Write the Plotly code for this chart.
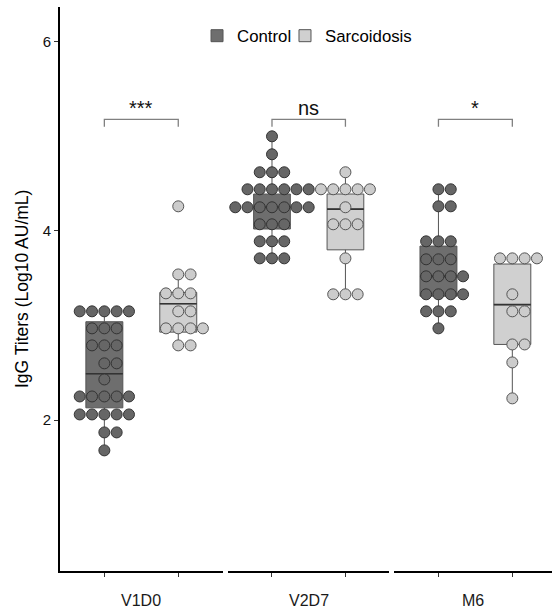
import plotly.graph_objects as go
from collections import Counter

# ---------------- data ----------------
visits = ["V1D0", "V2D7", "M6"]
groups = ["Control", "Sarcoidosis"]
signif = ["***", "ns", "*"]
y_ticks = [2, 4, 6]

# binned dot values (Log10 AU/mL) as drawn in the dot plot
v1d0_control = [3.15, 3.15, 3.15, 3.15, 3.15, 2.97, 2.97, 2.97, 2.79, 2.79, 2.79,
                2.60, 2.60, 2.43, 2.25, 2.25, 2.25, 2.25, 2.25, 2.06, 2.06, 2.06,
                2.06, 2.06, 1.87, 1.87, 1.68]
v1d0_sarc = [4.26, 3.54, 3.54, 3.34, 3.34, 3.34, 3.15, 3.15, 2.97, 2.97, 2.97,
             2.97, 2.79, 2.79]
v2d7_control = [5.00, 4.81, 4.62, 4.62, 4.62, 4.44, 4.44, 4.44, 4.44, 4.44, 4.44,
                4.25, 4.25, 4.25, 4.25, 4.25, 4.25, 4.25, 4.07, 4.07, 4.07, 3.89,
                3.89, 3.89, 3.71, 3.71, 3.71]
v2d7_sarc = [4.62, 4.44, 4.44, 4.44, 4.44, 4.44, 4.25, 4.07, 4.07, 4.07, 3.71,
             3.33, 3.33, 3.33]
m6_control = [4.44, 4.44, 4.26, 4.26, 3.89, 3.89, 3.89, 3.70, 3.70, 3.70, 3.52,
              3.52, 3.52, 3.52, 3.33, 3.33, 3.33, 3.33, 3.15, 3.15, 3.15, 2.97]
m6_sarc = [3.71, 3.71, 3.71, 3.71, 3.33, 3.15, 3.15, 2.80, 2.80, 2.61, 2.23]

# box statistics: [lower whisker, q1, median, q3, upper whisker]
box_v1d0_control = [1.68, 2.13, 2.49, 3.04, 3.15]
box_v1d0_sarc = [2.79, 2.93, 3.23, 3.35, 3.54]
box_v2d7_control = [3.71, 4.02, 4.25, 4.39, 5.00]
box_v2d7_sarc = [3.33, 3.80, 4.23, 4.39, 4.62]
box_m6_control = [2.97, 3.31, 3.52, 3.84, 4.44]
box_m6_sarc = [2.23, 2.80, 3.22, 3.65, 3.71]

bracket_y = 5.18
bracket_tip = 5.10
label_y = 5.30

# ---------------- style ----------------
FONT = "Liberation Sans, Arial, sans-serif"
dot_fill = {"Control": "#666666", "Sarcoidosis": "#cccccc"}
dot_line = {"Control": "#333333", "Sarcoidosis": "#555555"}
box_fill = {"Control": "#6e6e6e", "Sarcoidosis": "#d0d0d0"}
legend_ref = {"Control": "legend", "Sarcoidosis": "legend2"}
dot_step = 0.1666   # horizontal spacing of stacked dots (x units)
box_w = 0.5

dots = {
    ("V1D0", "Control"): v1d0_control, ("V1D0", "Sarcoidosis"): v1d0_sarc,
    ("V2D7", "Control"): v2d7_control, ("V2D7", "Sarcoidosis"): v2d7_sarc,
    ("M6", "Control"): m6_control, ("M6", "Sarcoidosis"): m6_sarc,
}
boxes = {
    ("V1D0", "Control"): box_v1d0_control, ("V1D0", "Sarcoidosis"): box_v1d0_sarc,
    ("V2D7", "Control"): box_v2d7_control, ("V2D7", "Sarcoidosis"): box_v2d7_sarc,
    ("M6", "Control"): box_m6_control, ("M6", "Sarcoidosis"): box_m6_sarc,
}

axes = ["x", "x2", "x3"]
fig = go.Figure()

# boxes
for i, v in enumerate(visits):
    for j, g in enumerate(groups):
        lo, q1, med, q3, hi = boxes[(v, g)]
        fig.add_trace(go.Box(
            x=[j + 1], q1=[q1], median=[med], q3=[q3],
            lowerfence=[lo], upperfence=[hi],
            width=box_w, whiskerwidth=0, boxpoints=False,
            fillcolor=box_fill[g], line=dict(color="#555555", width=1),
            name=g, legendgroup=g, showlegend=(i == 0), legend=legend_ref[g],
            xaxis=axes[i], yaxis="y", hoverinfo="skip",
        ))
        # emphasised median line
        fig.add_trace(go.Scatter(
            x=[j + 1 - box_w / 2, j + 1 + box_w / 2], y=[med, med],
            mode="lines", line=dict(color="#333333", width=1.7),
            showlegend=False, xaxis=axes[i], yaxis="y", hoverinfo="skip",
        ))

# stacked dots (centre-whole stacking)
for i, v in enumerate(visits):
    for j, g in enumerate(groups):
        vals = dots[(v, g)]
        cnt = Counter(vals)
        xs, ys = [], []
        for val, n in cnt.items():
            for k in range(n):
                xs.append(j + 1 + (k - (n - 1) // 2) * dot_step)
                ys.append(val)
        fig.add_trace(go.Scatter(
            x=xs, y=ys, mode="markers",
            marker=dict(size=11, color=dot_fill[g],
                        line=dict(color=dot_line[g], width=1)),
            showlegend=False, xaxis=axes[i], yaxis="y", hoverinfo="skip",
        ))

# significance brackets
for i, v in enumerate(visits):
    fig.add_trace(go.Scatter(
        x=[1, 1, 2, 2], y=[bracket_tip, bracket_y, bracket_y, bracket_tip],
        mode="lines", line=dict(color="#808080", width=1.3),
        showlegend=False, xaxis=axes[i], yaxis="y", hoverinfo="skip",
    ))
    fig.add_annotation(x=1.5, y=label_y, xref=axes[i], yref="y",
                       text=signif[i], showarrow=False,
                       font=dict(family=FONT, size=20, color="#111111"),
                       xanchor="center", yanchor="middle")
    fig.add_annotation(x=0.5, y=-0.0526, xref=f"{axes[i]} domain", yref="paper",
                       text=v, showarrow=False,
                       font=dict(family=FONT, size=16, color="#1a1a1a"),
                       xanchor="center", yanchor="middle")

# y title
fig.add_annotation(x=-0.0772, y=0.5, xref="paper", yref="paper",
                   text="IgG Titers (Log10 AU/mL)", textangle=-90,
                   showarrow=False, font=dict(family=FONT, size=17.5, color="#000000"),
                   xanchor="center", yanchor="middle")

xcommon = dict(showline=True, linecolor="black", linewidth=1.6, ticks="outside",
               ticklen=4, tickcolor="#333333", tickvals=[1, 2], ticktext=["", ""],
               showgrid=False, zeroline=False, fixedrange=True, anchor="y")

legend_common = dict(orientation="h", xanchor="left", y=0.949, yanchor="middle",
                     font=dict(family=FONT, size=16.8, color="black"),
                     bgcolor="rgba(0,0,0,0)", itemclick=False, itemdoubleclick=False)

fig.update_layout(
    width=552, height=610,
    margin=dict(l=60, r=0, t=7, b=38.7),
    plot_bgcolor="white", paper_bgcolor="white",
    font=dict(family=FONT, size=15, color="black"),
    boxmode="overlay",
    xaxis=dict(domain=[0.0, 0.3305], range=[0.4, 2.6], **xcommon),
    xaxis2=dict(domain=[0.3413, 0.6697], range=[0.4, 2.6], **xcommon),
    xaxis3=dict(domain=[0.6791, 1.0], range=[0.4, 2.537], **xcommon),
    yaxis=dict(range=[0.405, 6.367], tickvals=y_ticks, ticks="outside", ticklen=4,
               tickcolor="#333333", showline=True, linecolor="black", linewidth=1.6,
               showgrid=False, zeroline=False, fixedrange=True, anchor="x",
               tickfont=dict(family=FONT, size=15, color="#111111"), automargin=False),
    legend=dict(x=0.2785, **legend_common),
    legend2=dict(x=0.4573, **legend_common),
    showlegend=True,
)

fig.write_html("out.html", config={"displayModeBar": False})
